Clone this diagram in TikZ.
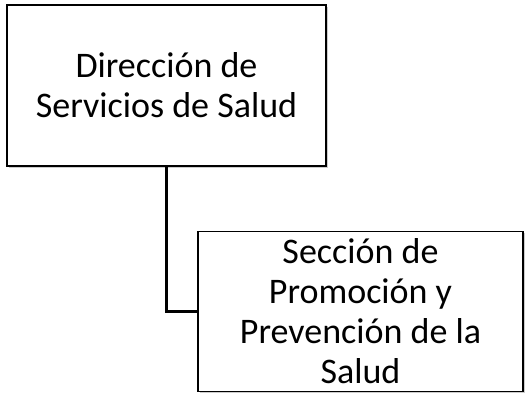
\documentclass[tikz,border=0pt]{standalone}
\usepackage{fontspec}
\setmainfont{Carlito}
\usetikzlibrary{positioning,shadows}

\begin{document}
\begin{tikzpicture}[
  x=1pt, y=1pt,
  unit/.style={draw=black, line width=1.5pt, fill=white, inner sep=0pt, align=center,
    font=\fontsize{36}{40}\selectfont,
    drop shadow={shadow xshift=1.5pt, shadow yshift=-1.5pt, fill=black, opacity=0.2}},
  link/.style={line width=3.6pt},
]
\useasboundingbox (0,0) rectangle (525,-392);
\node[unit, minimum width=319pt, minimum height=161pt] (dir) at (166.5,-85.5) {Dirección de\\Servicios de Salud};
\node[unit, minimum width=325pt, minimum height=160pt, below=64pt of dir.south west, anchor=north west, xshift=191pt] (sec) {Sección de\\Promoción y\\Prevención de la\\Salud};
\draw[link] (dir.south) |- (sec.west);
\end{tikzpicture}
\end{document}
